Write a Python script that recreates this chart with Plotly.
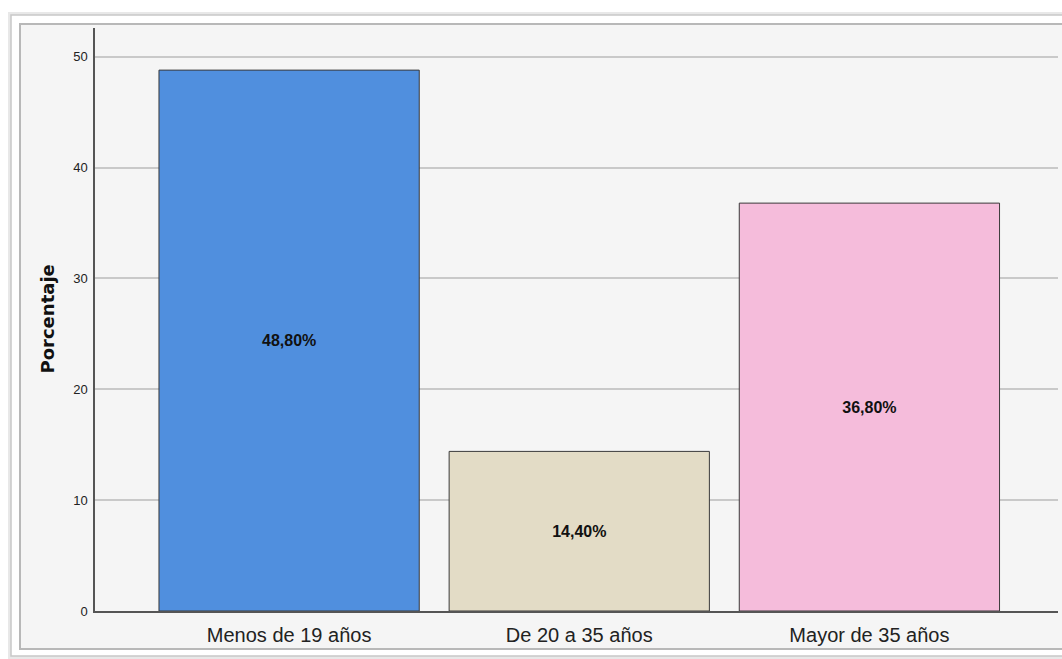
import plotly.graph_objects as go

# Age groups and their percentages
categorias = ["Menos de 19 años", "De 20 a 35 años", "Mayor de 35 años"]
porcentajes = [48.8, 14.4, 36.8]
colores = ["#508fde", "#e3dcc6", "#f5bcdb"]
ticks_y = [0, 10, 20, 30, 40, 50]

etiquetas = [f"{v:.2f}".replace(".", ",") + "%" for v in porcentajes]

W, H = 1062, 659
L, R, T, B = 95, 4, 28, 48
pw, ph = W - L - R, H - T - B


def px_x(x):
    return (x - L) / pw


def px_y(y):
    return (H - B - y) / ph


fig = go.Figure()
fig.add_trace(go.Bar(
    x=list(range(len(categorias))),
    y=porcentajes,
    width=0.897,
    marker=dict(color=colores, line=dict(color="#3a3a3a", width=1)),
    text=etiquetas,
    textposition="inside",
    insidetextanchor="middle",
    textangle=0,
    constraintext="none",
    textfont=dict(family="Liberation Sans, Arial", size=16,
                  color="#111111", weight="bold"),
    hoverinfo="skip",
))

# Framed panel behind the chart
shapes = [
    dict(type="rect", xref="paper", yref="paper", layer="below",
         x0=px_x(8), x1=px_x(1075), y0=px_y(660), y1=px_y(12),
         fillcolor="#e8e8e8", line=dict(width=0)),
    dict(type="rect", xref="paper", yref="paper", layer="below",
         x0=px_x(11), x1=px_x(1075), y0=px_y(656), y1=px_y(15),
         fillcolor="#ffffff", line=dict(color="#c8c8c8", width=1.5)),
    dict(type="rect", xref="paper", yref="paper", layer="below",
         x0=px_x(20), x1=px_x(1075), y0=px_y(649), y1=px_y(24),
         fillcolor="#f5f5f5", line=dict(color="#b8b8b8", width=2)),
]

annotations = [
    dict(text="<b>Porcentaje</b>", xref="paper", yref="paper",
         x=px_x(47), y=0.5, textangle=-90, showarrow=False,
         font=dict(family="DejaVu Sans, Liberation Sans", size=18, color="#111111"),
         xanchor="center", yanchor="middle"),
]

fig.update_layout(
    width=W, height=H,
    margin=dict(l=L, r=R, t=T, b=B, pad=0),
    paper_bgcolor="#ffffff",
    plot_bgcolor="rgba(0,0,0,0)",
    showlegend=False,
    shapes=shapes,
    annotations=annotations,
    xaxis=dict(
        range=[-0.669, 2.65],
        tickmode="array",
        tickvals=list(range(len(categorias))),
        ticktext=categorias,
        tickfont=dict(family="Liberation Sans, Arial", size=20, color="#222222"),
        showgrid=False,
        zeroline=False,
        showline=True, linecolor="#555555", linewidth=1.5,
        ticks="", ticklabelstandoff=5,
    ),
    yaxis=dict(
        range=[0, 52.6],
        tickmode="array",
        tickvals=ticks_y,
        tickfont=dict(family="Liberation Sans, Arial", size=13, color="#222222"),
        showgrid=True, gridcolor="#c9c9c9", gridwidth=1.5,
        zeroline=False,
        showline=True, linecolor="#555555", linewidth=1.5,
        ticks="", ticklabelstandoff=3,
    ),
)

fig.write_html("out.html")
